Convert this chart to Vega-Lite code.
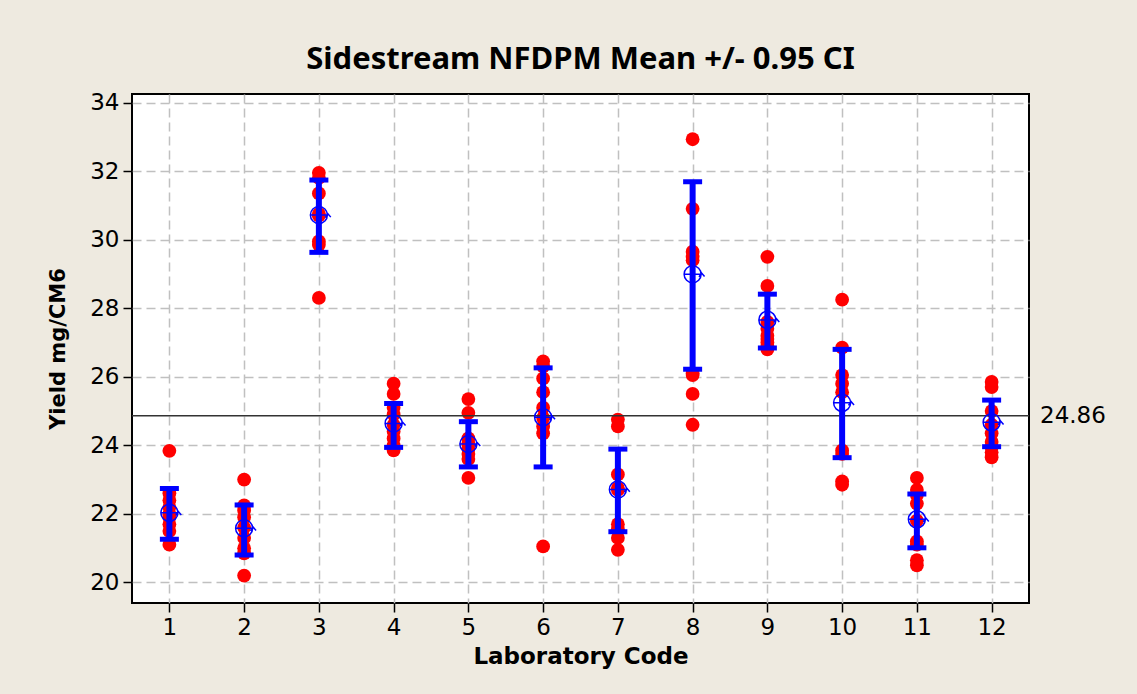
{
  "$schema": "https://vega.github.io/schema/vega-lite/v6.json",
  "width": 897,
  "height": 509,
  "autosize": "none",
  "padding": {"left": 132, "top": 94, "right": 108, "bottom": 91},
  "background": "#EEEAE0",
  "config": {
    "view": {"fill": "white", "stroke": "black", "strokeWidth": 2},
    "axis": {
      "labelFont": "DejaVu Sans", "labelFontSize": 23, "labelColor": "black",
      "titleFont": "DejaVu Sans", "titleFontSize": 21, "titleFontWeight": "bold", "titleColor": "black",
      "tickColor": "black", "tickSize": 9, "tickWidth": 1.5,
      "domain": false,
      "grid": true, "gridColor": "#C0C0C0", "gridDash": [9, 5], "gridWidth": 1.5
    }
  },
  "title": {
    "text": "Sidestream NFDPM Mean +/- 0.95 CI",
    "font": "Noto Sans", "fontSize": 31, "fontWeight": "bold", "color": "black",
    "anchor": "middle", "offset": 16
  },
  "datasets": {
    "obs": [
      {"lab": 1, "yield": 23.84}, {"lab": 1, "yield": 22.6}, {"lab": 1, "yield": 22.4}, {"lab": 1, "yield": 22.2}, {"lab": 1, "yield": 22.0}, {"lab": 1, "yield": 21.9}, {"lab": 1, "yield": 21.7}, {"lab": 1, "yield": 21.5}, {"lab": 1, "yield": 21.1},
      {"lab": 2, "yield": 23.0}, {"lab": 2, "yield": 22.25}, {"lab": 2, "yield": 22.1}, {"lab": 2, "yield": 21.9}, {"lab": 2, "yield": 21.6}, {"lab": 2, "yield": 21.3}, {"lab": 2, "yield": 21.0}, {"lab": 2, "yield": 20.85}, {"lab": 2, "yield": 20.2},
      {"lab": 3, "yield": 31.95}, {"lab": 3, "yield": 31.8}, {"lab": 3, "yield": 31.35}, {"lab": 3, "yield": 30.75}, {"lab": 3, "yield": 30.7}, {"lab": 3, "yield": 29.95}, {"lab": 3, "yield": 29.85}, {"lab": 3, "yield": 28.3},
      {"lab": 4, "yield": 25.8}, {"lab": 4, "yield": 25.5}, {"lab": 4, "yield": 25.1}, {"lab": 4, "yield": 24.9}, {"lab": 4, "yield": 24.6}, {"lab": 4, "yield": 24.4}, {"lab": 4, "yield": 24.2}, {"lab": 4, "yield": 24.0}, {"lab": 4, "yield": 23.85},
      {"lab": 5, "yield": 25.35}, {"lab": 5, "yield": 24.95}, {"lab": 5, "yield": 24.2}, {"lab": 5, "yield": 24.05}, {"lab": 5, "yield": 23.9}, {"lab": 5, "yield": 23.75}, {"lab": 5, "yield": 23.6}, {"lab": 5, "yield": 23.05},
      {"lab": 6, "yield": 26.45}, {"lab": 6, "yield": 26.3}, {"lab": 6, "yield": 25.95}, {"lab": 6, "yield": 25.55}, {"lab": 6, "yield": 25.1}, {"lab": 6, "yield": 24.8}, {"lab": 6, "yield": 24.55}, {"lab": 6, "yield": 24.35}, {"lab": 6, "yield": 21.05},
      {"lab": 7, "yield": 24.75}, {"lab": 7, "yield": 24.55}, {"lab": 7, "yield": 23.15}, {"lab": 7, "yield": 22.75}, {"lab": 7, "yield": 22.7}, {"lab": 7, "yield": 21.7}, {"lab": 7, "yield": 21.55}, {"lab": 7, "yield": 21.3}, {"lab": 7, "yield": 20.95},
      {"lab": 8, "yield": 32.93}, {"lab": 8, "yield": 30.9}, {"lab": 8, "yield": 29.65}, {"lab": 8, "yield": 29.5}, {"lab": 8, "yield": 29.4}, {"lab": 8, "yield": 26.1}, {"lab": 8, "yield": 26.05}, {"lab": 8, "yield": 25.5}, {"lab": 8, "yield": 24.6},
      {"lab": 9, "yield": 29.5}, {"lab": 9, "yield": 28.65}, {"lab": 9, "yield": 27.6}, {"lab": 9, "yield": 27.4}, {"lab": 9, "yield": 27.2}, {"lab": 9, "yield": 27.1}, {"lab": 9, "yield": 27.0}, {"lab": 9, "yield": 26.9}, {"lab": 9, "yield": 26.8},
      {"lab": 10, "yield": 28.25}, {"lab": 10, "yield": 26.85}, {"lab": 10, "yield": 26.05}, {"lab": 10, "yield": 25.8}, {"lab": 10, "yield": 25.55}, {"lab": 10, "yield": 23.85}, {"lab": 10, "yield": 23.75}, {"lab": 10, "yield": 22.95}, {"lab": 10, "yield": 22.85},
      {"lab": 11, "yield": 23.05}, {"lab": 11, "yield": 22.7}, {"lab": 11, "yield": 22.55}, {"lab": 11, "yield": 22.3}, {"lab": 11, "yield": 21.8}, {"lab": 11, "yield": 21.2}, {"lab": 11, "yield": 21.1}, {"lab": 11, "yield": 20.65}, {"lab": 11, "yield": 20.5},
      {"lab": 12, "yield": 25.85}, {"lab": 12, "yield": 25.7}, {"lab": 12, "yield": 25.0}, {"lab": 12, "yield": 24.6}, {"lab": 12, "yield": 24.35}, {"lab": 12, "yield": 24.1}, {"lab": 12, "yield": 23.95}, {"lab": 12, "yield": 23.8}, {"lab": 12, "yield": 23.65}
    ],
    "ci": [
      {"lab": 1, "mean": 22.03, "lo": 21.26, "hi": 22.74},
      {"lab": 2, "mean": 21.58, "lo": 20.8, "hi": 22.26},
      {"lab": 3, "mean": 30.72, "lo": 29.63, "hi": 31.74},
      {"lab": 4, "mean": 24.64, "lo": 23.94, "hi": 25.22},
      {"lab": 5, "mean": 24.04, "lo": 23.37, "hi": 24.69},
      {"lab": 6, "mean": 24.82, "lo": 23.37, "hi": 26.26},
      {"lab": 7, "mean": 22.71, "lo": 21.48, "hi": 23.89},
      {"lab": 8, "mean": 28.99, "lo": 26.22, "hi": 31.69},
      {"lab": 9, "mean": 27.66, "lo": 26.84, "hi": 28.41},
      {"lab": 10, "mean": 25.24, "lo": 23.64, "hi": 26.8},
      {"lab": 11, "mean": 21.84, "lo": 21.01, "hi": 22.58},
      {"lab": 12, "mean": 24.67, "lo": 23.96, "hi": 25.32}
    ],
    "ref": [{"value": 24.86, "label": "24.86"}]
  },
  "layer": [
    {
      "data": {"name": "obs"},
      "mark": {"type": "point", "filled": true, "shape": "circle", "size": 190, "color": "#FF0000", "opacity": 1},
      "encoding": {
        "x": {
          "field": "lab", "type": "quantitative",
          "scale": {"domain": [0.5, 12.5], "nice": false, "zero": false},
          "axis": {"values": [1, 2, 3, 4, 5, 6, 7, 8, 9, 10, 11, 12], "format": "d", "title": "Laboratory Code", "titleFontSize": 23, "labelPadding": 4, "titlePadding": 6}
        },
        "y": {
          "field": "yield", "type": "quantitative",
          "scale": {"domain": [19.4, 34.25], "nice": false, "zero": false},
          "axis": {"values": [20, 22, 24, 26, 28, 30, 32, 34], "format": "d", "title": "Yield mg/CM6", "labelPadding": 4, "titlePadding": 21}
        }
      }
    },
    {
      "data": {"name": "ref"},
      "mark": {"type": "rule", "color": "#333333", "strokeWidth": 1.5},
      "encoding": {"y": {"field": "value", "type": "quantitative"}}
    },
    {
      "data": {"name": "ref"},
      "mark": {"type": "text", "align": "left", "baseline": "middle", "dx": 11, "fontSize": 23, "font": "DejaVu Sans", "color": "black", "clip": false},
      "encoding": {
        "x": {"datum": 12.5, "type": "quantitative"},
        "y": {"field": "value", "type": "quantitative"},
        "text": {"field": "label"}
      }
    },
    {
      "data": {"name": "ci"},
      "mark": {"type": "rule", "color": "#0000FF", "strokeWidth": 6},
      "encoding": {
        "x": {"field": "lab", "type": "quantitative"},
        "y": {"field": "lo", "type": "quantitative"},
        "y2": {"field": "hi"}
      }
    },
    {
      "data": {"name": "ci"},
      "mark": {"type": "tick", "orient": "horizontal", "color": "#0000FF", "size": 19, "thickness": 5, "opacity": 1},
      "encoding": {
        "x": {"field": "lab", "type": "quantitative"},
        "y": {"field": "lo", "type": "quantitative"}
      }
    },
    {
      "data": {"name": "ci"},
      "mark": {"type": "tick", "orient": "horizontal", "color": "#0000FF", "size": 19, "thickness": 5, "opacity": 1},
      "encoding": {
        "x": {"field": "lab", "type": "quantitative"},
        "y": {"field": "hi", "type": "quantitative"}
      }
    },
    {
      "data": {"name": "ci"},
      "mark": {
        "type": "point", "filled": false, "color": "#0000FF", "strokeWidth": 1.5, "opacity": 1, "size": 290,
        "shape": "M -1 0 A 1 1 0 1 1 1 0 A 1 1 0 1 1 -1 0 Z M -1 0 L 1 0 M 0 -1 L 0 1 M 0.75 0.3 L 1.05 -0.15 L 1.4 0.25"
      },
      "encoding": {
        "x": {"field": "lab", "type": "quantitative"},
        "y": {"field": "mean", "type": "quantitative"}
      }
    }
  ]
}
